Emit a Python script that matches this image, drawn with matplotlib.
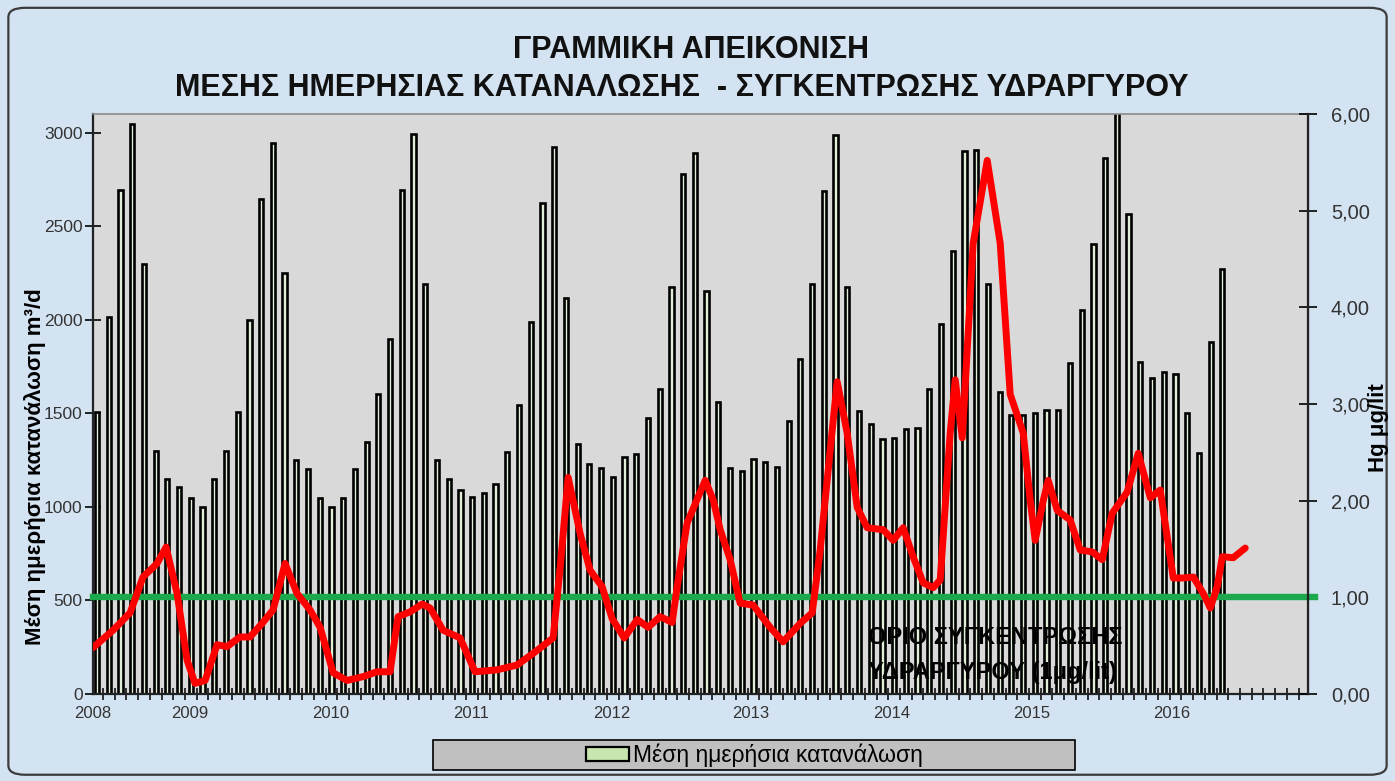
import numpy as np
import matplotlib
matplotlib.use("Agg")
import matplotlib.pyplot as plt
from matplotlib.patches import FancyBboxPatch, Rectangle, Patch
from matplotlib.ticker import FuncFormatter

plt.rcParams["font.family"] = ["Liberation Sans", "DejaVu Sans"]

# mean daily consumption per month (m3/d)
consumption = [
    1505, 2013, 2696, 3049, 2296, 1297, 1148, 1105, 1046, 998, 1148, 1297,
    1505, 1997, 2648, 2947, 2248, 1249, 1201, 1046, 998, 1046, 1201, 1345,
    1602, 1895, 2696, 2995, 2194, 1249, 1148, 1089, 1052, 1073, 1121, 1292,
    1543, 1986, 2627, 2926, 2114, 1335, 1228, 1207, 1159, 1265, 1281, 1474,
    1628, 2178, 2782, 2894, 2152, 1559, 1207, 1191, 1254, 1240, 1212, 1458,
    1788, 2189, 2686, 2990, 2178, 1511, 1441, 1361, 1367, 1415, 1420, 1628,
    1975, 2370, 2904, 2910, 2189, 1612, 1490, 1490, 1500, 1516, 1516, 1767,
    2055, 2403, 2867, 3150, 2563, 1773, 1687, 1719, 1708, 1500, 1287, 1879,
    2274,
]

# Hg concentration (μg/lit): month position / value
hg_month = [
    -0.34, 1.37, 2.82, 3.92, 5.12, 5.89, 6.83, 7.68, 8.36, 9.22, 10.24, 11.09,
    12.20, 13.05, 14.08, 15.02, 16.04, 17.06, 18.17, 19.03, 20.14, 21.33, 22.70,
    23.89, 25.00, 25.68, 26.71, 27.73, 28.41, 29.52, 30.97, 32.25, 34.13, 35.84,
    37.20, 38.91, 39.51, 40.19, 41.21, 42.06, 43.09, 43.94, 44.97, 46.08, 47.01,
    48.04, 49.06, 49.49, 50.34, 51.88, 52.56, 53.16, 54.01, 54.86, 55.97, 57.42,
    58.53, 59.98, 61.01, 61.69, 62.54, 63.14, 63.99, 64.85, 65.70, 67.06, 67.92,
    68.77, 69.62, 70.48, 71.33, 71.93, 72.78, 73.21, 73.81, 74.74, 75.94, 77.05,
    77.90, 79.01, 79.61, 80.03, 80.72, 81.14, 81.91, 83.02, 83.87, 84.90, 85.75,
    86.60, 87.88, 88.82, 89.85, 90.70, 91.81, 92.66, 93.52, 94.37, 94.97, 95.56,
    95.99, 96.93, 97.95,
]
hg_value = [
    0.48, 0.66, 0.84, 1.21, 1.35, 1.52, 1.04, 0.35, 0.11, 0.14, 0.51, 0.49,
    0.59, 0.59, 0.73, 0.87, 1.35, 1.04, 0.87, 0.69, 0.22, 0.14, 0.18,
    0.23, 0.23, 0.80, 0.85, 0.93, 0.89, 0.66, 0.58, 0.23, 0.25, 0.30,
    0.42, 0.58, 1.31, 2.24, 1.66, 1.28, 1.11, 0.78, 0.58, 0.77, 0.69,
    0.80, 0.74, 1.11, 1.77, 2.21, 2.01, 1.70, 1.39, 0.94, 0.92, 0.69,
    0.54, 0.73, 0.84, 1.49, 2.52, 3.23, 2.70, 1.93, 1.72, 1.70, 1.59,
    1.72, 1.42, 1.15, 1.10, 1.18, 2.70, 3.25, 2.65, 4.66, 5.52, 4.66,
    3.10, 2.70, 2.00, 1.59, 2.00, 2.21, 1.90, 1.80, 1.49, 1.47, 1.39,
    1.87, 2.09, 2.49, 2.03, 2.11, 1.20, 1.20, 1.21, 1.04, 0.89, 1.11,
    1.42, 1.41, 1.51,
]
hg_limit = 1.0

year_labels = ["2008", "2009", "2010", "2011", "2012", "2013", "2014", "2015", "2016"]
year_pos = [-0.34, 7.9, 19.9, 31.9, 43.9, 55.8, 67.8, 79.7, 91.7]

fig = plt.figure(figsize=(13.95, 7.81), dpi=100)
fig.patch.set_facecolor("#d4e3f2")
fig.patches.append(FancyBboxPatch((0.006, 0.008), 0.988, 0.982,
                                  boxstyle="round,pad=0,rounding_size=0.012",
                                  transform=fig.transFigure, fill=False,
                                  ec="#3c3c3c", lw=1.6))

ax = fig.add_axes([0.0667, 0.1114, 0.8709, 0.7426])
ax.set_facecolor("#d9d9d9")
x = np.arange(len(consumption))
ax.bar(x, consumption, width=0.36, color="#e2efd8", edgecolor="black",
       lw=1.9, zorder=2)
ax.set_xlim(-0.34, 103.3)
ax.set_ylim(0, 3100)
ax.set_yticks(range(0, 3001, 500))
ax.tick_params(axis="y", direction="inout", length=11, width=1.2,
               labelsize=12.5, labelcolor="#333333", pad=2)
ax.set_xticks(year_pos)
ax.set_xticklabels(year_labels)
ax.set_xticks(np.arange(0.5, 103.3, 1), minor=True)
ax.tick_params(axis="x", which="major", length=0, pad=9, labelsize=12,
               labelcolor="#333333")
ax.tick_params(axis="x", which="minor", direction="inout", length=8, width=1.1)
for s in ("left", "bottom"):
    ax.spines[s].set_linewidth(1.6)
    ax.spines[s].set_color("#222222")
ax.spines["top"].set_color("#8a8a8a")
ax.spines["top"].set_linewidth(1.2)

ax2 = ax.twinx()
ax2.set_ylim(0, 6)
ax2.set_yticks(range(0, 7))
ax2.yaxis.set_major_formatter(FuncFormatter(lambda v, p: f"{v:.2f}".replace(".", ",")))
ax2.tick_params(axis="y", direction="inout", length=13, width=1.2,
                labelsize=14.5, labelcolor="#333333", pad=10)
ax2.spines["right"].set_linewidth(1.6)
ax2.spines["right"].set_color("#222222")
for s in ("left", "top", "bottom"):
    ax2.spines[s].set_visible(False)

ax2.axhline(hg_limit, xmin=0, xmax=1.006, color="#1ca84c", lw=4.6,
            clip_on=False, zorder=2)
ax2.plot(hg_month, hg_value, color="#ff0000", lw=5, zorder=3,
         solid_joinstyle="round", solid_capstyle="round")
ax2.text(0.638, 0.067, "ΟΡΙΟ ΣΥΓΚΕΝΤΡΩΣΗΣ\nΥΔΡΑΡΓΥΡΟΥ (1μg/lit)",
         transform=ax2.transAxes, ha="left", va="center", fontsize=17,
         fontweight="bold", color="black", linespacing=1.65, zorder=1)

fig.text(0.495, 0.936, "ΓΡΑΜΜΙΚΗ ΑΠΕΙΚΟΝΙΣΗ", ha="center", va="center",
         fontsize=22, fontweight="bold", color="#111111")
fig.text(0.489, 0.887, "ΜΕΣΗΣ ΗΜΕΡΗΣΙΑΣ ΚΑΤΑΝΑΛΩΣΗΣ  - ΣΥΓΚΕΝΤΡΩΣΗΣ ΥΔΡΑΡΓΥΡΟΥ",
         ha="center", va="center", fontsize=22, fontweight="bold", color="#111111")
fig.text(0.025, 0.403, "Μέση ημερήσια κατανάλωση m³/d", rotation=90,
         ha="center", va="center", fontsize=16, fontweight="bold")
fig.text(0.9885, 0.452, "Hg μg/lit", rotation=90, ha="center", va="center",
         fontsize=16, fontweight="bold")

fig.patches.append(Rectangle((0.3104, 0.0141), 0.4602, 0.0384,
                             transform=fig.transFigure, fc="#c0c0c0",
                             ec="black", lw=1.2))
fig.legend([Patch(fc="#c8e6b0", ec="black", lw=1.6)], ["Μέση ημερήσια κατανάλωση"],
           loc="center", bbox_to_anchor=(0.5405, 0.0333), frameon=False,
           fontsize=16.5, handlelength=1.9, handleheight=0.55, handletextpad=0.15,
           borderpad=0)

fig.savefig("out.png", dpi=100, facecolor=fig.get_facecolor())
